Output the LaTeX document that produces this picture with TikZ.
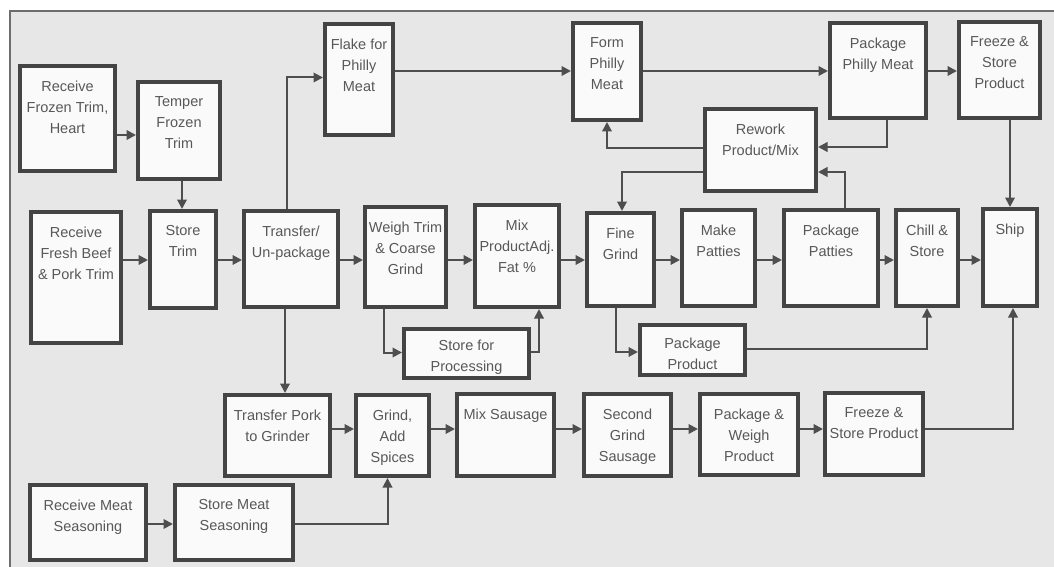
\documentclass[tikz,border=0pt]{standalone}
\usepackage{fontspec}
\setmainfont{Liberation Sans}
\usetikzlibrary{arrows.meta}
\definecolor{bgc}{RGB}{231,231,231}
\definecolor{boxfill}{RGB}{250,250,250}
\definecolor{boxc}{RGB}{68,68,68}
\definecolor{txtc}{RGB}{88,88,88}
\definecolor{linec}{RGB}{78,78,78}
\definecolor{framec}{RGB}{110,110,110}
\tikzset{
  box/.style={draw=boxc, line width=4pt, fill=boxfill, inner sep=0pt},
  lbl/.style={anchor=north, inner sep=0pt, align=center, text=txtc,
    font=\fontsize{14.5}{21}\selectfont},
  arr/.style={draw=linec, line width=2pt, -{Triangle[length=9.5pt,width=9.5pt]}},
}
\newcommand\bx[7][-16.5pt]{\node[box, minimum width=#5pt-#3pt-4pt, minimum height=#6pt-#4pt-4pt,
  label={[lbl,yshift=#1]north:{#7}}] (#2) at ({(#3+#5)/2},{(#4+#6)/2}) {};}
\begin{document}
\begin{tikzpicture}[x=1pt,y=-1pt]
\useasboundingbox (0,0) rectangle (1054,567);
\fill[white] (0,0) rectangle (1054,567);
\fill[bgc] (10,11) rectangle (1054,567);
\draw[framec, line width=1.2pt] (10,567) -- (10,11) -- (1054,11);
% boxes
\bx{rft}{18}{64}{117}{173}{Receive\\Frozen Trim,\\Heart}
\bx{tft}{136}{80}{222}{181}{Temper\\Frozen\\Trim}
\bx{flk}{323}{22}{395}{137}{Flake for\\Philly\\Meat}
\bx{frm}{571}{21}{643}{122}{Form\\Philly\\Meat}
\bx{pph}{828}{21}{928}{120}{Package\\Philly Meat}
\bx{fzt}{957}{20}{1042}{120}{Freeze \&\\Store\\Product}
\bx{rw}{703}{107}{818}{193}{Rework\\Product/Mix}
\bx{rfb}{29}{210}{123}{345}{Receive\\Fresh Beef\\\& Pork Trim}
\bx{st}{148}{209}{218}{310}{Store\\Trim}
\bx{tfu}{242}{209}{340}{309}{Transfer/\\Un-package}
\bx{wtc}{363}{205}{448}{309}{Weigh Trim\\\& Coarse\\Grind}
\bx{mix}{473}{203}{561}{309}{Mix\\ProductAdj.\\Fat \%}
\bx{fg}{585}{211}{656}{308}{Fine\\Grind}
\bx{mp}{680}{208}{757}{308}{Make\\Patties}
\bx{ppt}{782}{208}{880}{308}{Package\\Patties}
\bx{ch}{894}{208}{960}{308}{Chill \&\\Store}
\bx{shp}{981}{207}{1039}{308}{Ship}
\bx[-12.5pt]{sfp}{402}{327}{531}{380}{Store for\\Processing}
\bx[-14.5pt]{pp}{638}{323}{747}{377}{Package\\Product}
\bx{tpg}{223}{393}{332}{478}{Transfer Pork\\to Grinder}
\bx{gas}{354}{393}{431}{478}{Grind,\\Add\\Spices}
\bx{ms}{455}{392}{556}{478}{Mix Sausage}
\bx{sgs}{582}{392}{673}{478}{Second\\Grind\\Sausage}
\bx{pw}{698}{392}{800}{477}{Package \&\\Weigh\\Product}
\bx{fzb}{823}{391}{925}{477}{Freeze \&\\Store Product}
\bx{rms}{28}{483}{148}{562}{Receive Meat\\Seasoning}
\bx{sms}{173}{483}{295}{562}{Store Meat\\Seasoning}
% alignment rows
\coordinate (r1) at (0,71);
\coordinate (r2) at (0,260);
\coordinate (r3) at (0,429);
\coordinate (r4) at (0,524);
\coordinate (a1) at ([yshift=-4.5pt]tft.west);
% connectors
\draw[arr] (rft.east |- a1) -- (a1);
\draw[arr] ([xshift=3pt]tft.south) -- ([xshift=3pt]tft.south |- st.north);
\draw[arr] (rfb.east |- r2) -- (st.west |- r2);
\draw[arr] (st.east |- r2) -- (tfu.west |- r2);
\draw[arr] (tfu.east |- r2) -- (wtc.west |- r2);
\draw[arr] (wtc.east |- r2) -- (mix.west |- r2);
\draw[arr] (mix.east |- r2) -- (fg.west |- r2);
\draw[arr] (fg.east |- r2) -- (mp.west |- r2);
\draw[arr] (mp.east |- r2) -- (ppt.west |- r2);
\draw[arr] (ppt.east |- r2) -- (ch.west |- r2);
\draw[arr] (ch.east |- r2) -- (shp.west |- r2);
\draw[arr] ([xshift=-4pt]tfu.north) |- ([yshift=2pt]flk.west);
\draw[arr] (flk.east |- r1) -- (frm.west |- r1);
\draw[arr] (frm.east |- r1) -- (pph.west |- r1);
\draw[arr] (pph.east |- r1) -- (fzt.west |- r1);
\draw[arr] (fzt.south -| shp.north) -- (shp.north);
\draw[arr] ([xshift=9pt]pph.south) |- ([yshift=3pt]rw.east);
\draw[arr] ([xshift=14pt]ppt.north) |- ([yshift=-22pt]rw.east);
\draw[arr] ([yshift=2pt]rw.west) -| (frm.south);
\draw[arr] ([yshift=-22pt]rw.west) -| ([xshift=1.5pt]fg.north);
\draw[arr] ([xshift=-22pt]wtc.south) |- ([yshift=1pt]sfp.west);
\draw[arr] ([yshift=2pt]sfp.east) -| ([xshift=22pt]mix.south);
\draw[arr] ([xshift=-5pt]fg.south) |- ([yshift=-2pt]pp.west);
\draw[arr] ([yshift=1pt]pp.east) -| (ch.south);
\draw[arr] ([xshift=-6pt]tfu.south) -- ([xshift=-6pt]tfu.south |- tpg.north);
\draw[arr] (tpg.east |- r3) -- (gas.west |- r3);
\draw[arr] (gas.east |- r3) -- (ms.west |- r3);
\draw[arr] (ms.east |- r3) -- (sgs.west |- r3);
\draw[arr] (sgs.east |- r3) -- (pw.west |- r3);
\draw[arr] (pw.east |- r3) -- (fzb.west |- r3);
\draw[arr] (fzb.east |- r3) -| ([xshift=3pt]shp.south);
\draw[arr] (rms.east |- r4) -- (sms.west |- r4);
\draw[arr] (sms.east |- r4) -| ([xshift=-5pt]gas.south);
\end{tikzpicture}
\end{document}
